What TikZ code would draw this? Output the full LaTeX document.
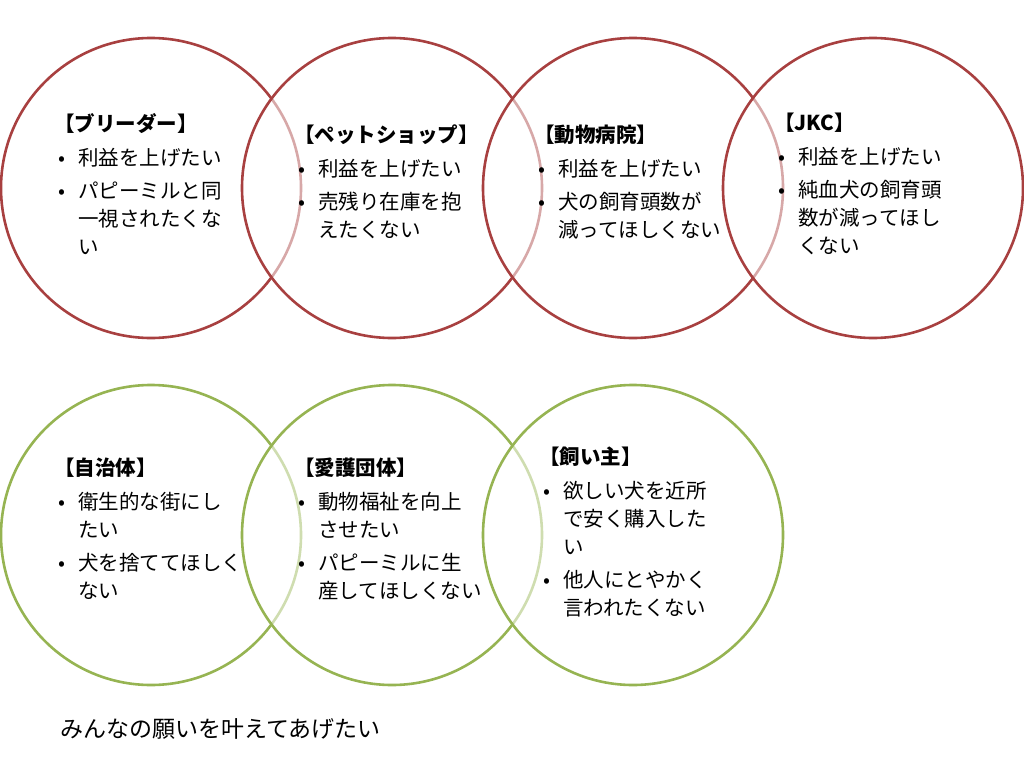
\documentclass[tikz,border=0pt]{standalone}
\usepackage{fontspec}
\setmainfont{Noto Sans CJK JP}
\definecolor{ringred}{RGB}{168,64,64}
\definecolor{ringgreen}{RGB}{150,180,82}
\newcommand\bul{\makebox[24pt][l]{\hspace*{4pt}\textbullet}}
\newcommand\ind{\hspace*{24pt}}
\tikzset{
    ring/.style = {circle, draw=#1, line width=2.6pt, minimum size=300pt,
        fill=white, fill opacity=0.55, inner sep=0},
    wish/.style = {anchor=north west, align=left, inner sep=0,
        font=\fontsize{20.5}{28}\selectfont}
}
\begin{document}
\begin{tikzpicture}[x=1pt,y=-1pt]
    \useasboundingbox (0,0) rectangle (1024,768);
    % top row
    \foreach \cx/\nm in {151/ra,392/rb,633/rc,873/rd}
        \node[ring=ringred] (\nm) at (\cx,188) {};
    % bottom row
    \foreach \cx/\nm in {151/ga,392/gb,633/gc}
        \node[ring=ringgreen] (\nm) at (\cx,535) {};
    \node[wish] (breeder) at (54,113) {\textbf{【ブリーダー】}\\[6pt]
        \bul 利益を上げたい\\[5pt]
        \bul パピーミルと同\\ \ind 一視されたくな\\ \ind い};
    \node[wish] (shop) at (294,125) {\textbf{【ペットショップ】}\\[6pt]
        \bul 利益を上げたい\\[5pt]
        \bul 売残り在庫を抱\\ \ind えたくない};
    \node[wish] (vet) at (534,125) {\textbf{【動物病院】}\\[6pt]
        \bul 利益を上げたい\\[5pt]
        \bul 犬の飼育頭数が\\ \ind 減ってほしくない};
    \node[wish] (jkc) at (774,113) {\textbf{【JKC】}\\[6pt]
        \bul 利益を上げたい\\[5pt]
        \bul 純血犬の飼育頭\\ \ind 数が減ってほし\\ \ind くない};
    \node[wish] (city) at (54,458) {\textbf{【自治体】}\\[6pt]
        \bul 衛生的な街にし\\ \ind たい\\[5pt]
        \bul 犬を捨ててほしく\\ \ind ない};
    \node[wish] (welfare) at (294,458) {\textbf{【愛護団体】}\\[6pt]
        \bul 動物福祉を向上\\ \ind させたい\\[5pt]
        \bul パピーミルに生\\ \ind 産してほしくない};
    \node[wish] (owner) at (539,447) {\textbf{【飼い主】}\\[6pt]
        \bul 欲しい犬を近所\\ \ind で安く購入した\\ \ind い\\[5pt]
        \bul 他人にとやかく\\ \ind 言われたくない};
    \node[wish, font=\fontsize{23}{28}\selectfont] (motto) at (60,718) {みんなの願いを叶えてあげたい};
\end{tikzpicture}
\end{document}
